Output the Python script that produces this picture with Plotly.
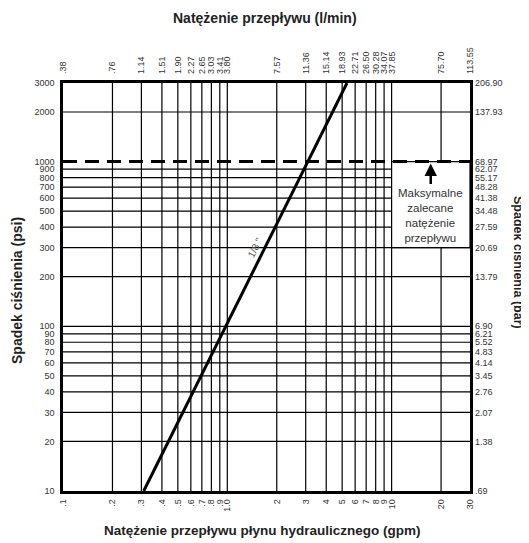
import math
import plotly.graph_objects as go

# ---- data ----
gpm_ticks = [0.1, 0.2, 0.3, 0.4, 0.5, 0.6, 0.7, 0.8, 0.9, 1, 2, 3, 4, 5, 6, 7, 8, 9, 10, 20, 30]
gpm_labels = [".1", ".2", ".3", ".4", ".5", ".6", ".7", ".8", ".9", "1.0",
              "2", "3", "4", "5", "6", "7", "8", "9", "10", "20", "30"]
lpm_labels = [".38", ".76", "1.14", "1.51", "1.90", "2.27", "2.65", "3.03", "3.41", "3.80",
              "7.57", "11.36", "15.14", "18.93", "22.71", "26.50", "30.28", "34.07", "37.85",
              "75.70", "113.55"]
psi_ticks = [10, 20, 30, 40, 50, 60, 70, 80, 90, 100, 200, 300, 400, 500, 600, 700, 800, 900,
             1000, 2000, 3000]
psi_labels = ["10", "20", "30", "40", "50", "60", "70", "80", "90", "100", "200", "300", "400",
              "500", "600", "700", "800", "900", "1000", "2000", "3000"]
bar_labels = [".69", "1.38", "2.07", "2.76", "3.45", "4.14", "4.83", "5.52", "6.21", "6.90",
              "13.79", "20.69", "27.59", "34.48", "41.38", "48.28", "55.17", "62.07", "68.97",
              "137.93", "206.90"]

line_gpm = [0.31, 5.35]       # 1/8" curve
line_psi = [10, 3000]
max_psi = 1000                # max recommended
box_gpm = [10, 30]
box_psi = [300, 1000]
arrow_gpm = 17.3
note_psi = 470
label_gpm = 1.47
label_psi = 303

x_range = [gpm_ticks[0], gpm_ticks[-1]]
y_range = [psi_ticks[0], psi_ticks[-1]]
xr_log = [math.log10(v) for v in x_range]
yr_log = [math.log10(v) for v in y_range]

TICKFONT = dict(family="Liberation Sans, Arial, sans-serif", size=9, color="#333")
TITLEFONT = "Liberation Sans, Arial, sans-serif"

fig = go.Figure()

shapes = []
for gx in gpm_ticks[1:-1]:
    shapes.append(dict(type="line", xref="x", yref="y", x0=gx, x1=gx, y0=y_range[0], y1=y_range[1],
                       line=dict(color="black", width=1.2), layer="below"))
for gy in psi_ticks[1:-1]:
    if gy == max_psi:
        continue
    shapes.append(dict(type="line", xref="x", yref="y", x0=x_range[0], x1=x_range[1], y0=gy, y1=gy,
                       line=dict(color="black", width=1.2), layer="below"))
shapes.append(dict(type="rect", xref="x", yref="y", x0=box_gpm[0], x1=box_gpm[1], y0=box_psi[0], y1=box_psi[1],
                   fillcolor="white", line=dict(color="black", width=1.2), layer="above"))
shapes.append(dict(type="line", xref="x", yref="y", x0=x_range[0], x1=x_range[1], y0=max_psi, y1=max_psi,
                   line=dict(color="black", width=3, dash="14px,8px"), layer="above"))

fig.add_trace(go.Scatter(x=line_gpm, y=line_psi, mode="lines",
                         line=dict(color="black", width=3), showlegend=False, hoverinfo="skip"))
fig.add_trace(go.Scatter(x=line_gpm, y=line_psi, mode="lines", xaxis="x2", yaxis="y2",
                         line=dict(color="rgba(0,0,0,0)", width=0), showlegend=False, hoverinfo="skip"))

axis_common = dict(type="log", showgrid=False, zeroline=False, ticks="", tickfont=TICKFONT,
                   automargin=False)

# the page body adds an 8px offset, so the figure is sized to fill the rest of the window
fig.update_layout(
    width=521, height=535,
    margin=dict(l=55, r=59, t=75, b=52),
    paper_bgcolor="white", plot_bgcolor="white",
    shapes=shapes,
    xaxis=dict(axis_common, range=xr_log, tickvals=gpm_ticks, ticktext=gpm_labels, tickangle=-90,
               showline=True, linecolor="black", linewidth=2.5, mirror=True, ticklabelstandoff=2),
    yaxis=dict(axis_common, range=yr_log, tickvals=psi_ticks, ticktext=psi_labels,
               showline=True, linecolor="black", linewidth=2.5, mirror=True, ticklabelstandoff=4),
    xaxis2=dict(axis_common, range=xr_log, tickvals=gpm_ticks, ticktext=lpm_labels, tickangle=-90,
                overlaying="x", side="top", showline=False, ticklabelstandoff=8),
    yaxis2=dict(axis_common, range=yr_log, tickvals=psi_ticks, ticktext=bar_labels,
                overlaying="y", side="right", showline=False, ticklabelstandoff=4),
)

annos = [
    dict(text="<b>Natężenie przepływu (l/min)</b>", xref="paper", yref="paper", x=0.5, y=1,
         xshift=-2, yshift=65, showarrow=False, font=dict(family=TITLEFONT, size=14, color="#222"),
         yanchor="middle"),
    dict(text="<b>Natężenie przepływu płynu hydraulicznego (gpm)</b>", xref="paper", yref="paper",
         x=0.5, y=0, xshift=-4, yshift=-39, showarrow=False,
         font=dict(family=TITLEFONT, size=13.5, color="#222"), yanchor="middle"),
    dict(text="<b>Spadek ciśnienia (psi)</b>", xref="paper", yref="paper", x=0, xshift=-46, y=0.5,
         yshift=-4, textangle=-90, showarrow=False, font=dict(family=TITLEFONT, size=14, color="#222"),
         xanchor="center", borderpad=0),
    dict(text="<b>Spadek ciśnienia (bar)</b>", xref="paper", yref="paper", x=1, xshift=48, y=0.5,
         yshift=25, textangle=90, showarrow=False, font=dict(family=TITLEFONT, size=12.5, color="#222"),
         xanchor="center", borderpad=0),
    dict(text="", x=math.log10(arrow_gpm), y=math.log10(max_psi), xref="x", yref="y",
         showarrow=True, ax=0, ay=24, arrowhead=2, arrowsize=1, arrowwidth=2.5, arrowcolor="black",
         standoff=2),
    dict(text="Maksymalne<br>zalecane<br>natężenie<br>przepływu", x=math.log10(arrow_gpm),
         y=math.log10(note_psi), xref="x", yref="y", showarrow=False,
         font=dict(family=TITLEFONT, size=11.5, color="#333")),
    dict(text='1/8 "', x=math.log10(label_gpm), y=math.log10(label_psi), xref="x", yref="y",
         showarrow=False, textangle=-63, font=dict(family="Liberation Sans, Arial, sans-serif",
                                                   size=10, color="#555")),
]
fig.update_layout(annotations=annos)

fig.write_html("out.html")
